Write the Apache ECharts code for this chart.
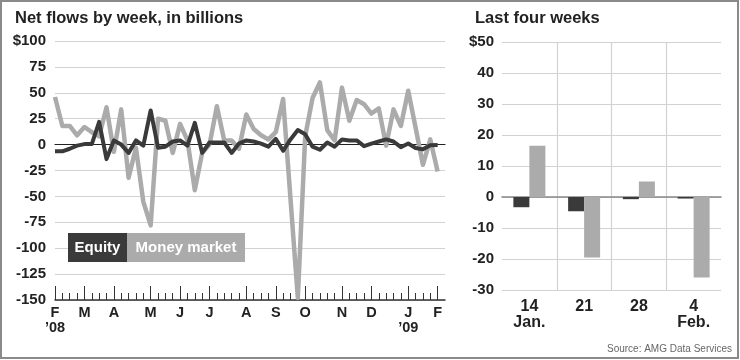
<!DOCTYPE html>
<html><head><meta charset="utf-8">
<script src="https://cdn.jsdelivr.net/npm/echarts@6/dist/echarts.min.js"></script>
<style>html,body{margin:0;padding:0;background:#fff}#c{width:740px;height:360px}</style>
</head><body><div id="c"></div>
<script>
// Weekly categories (Wednesdays), Feb 2008 - Feb 2009
const weeks = [
 '2008-02-06','2008-02-13','2008-02-20','2008-02-27',
 '2008-03-05','2008-03-12','2008-03-19','2008-03-26',
 '2008-04-02','2008-04-09','2008-04-16','2008-04-23','2008-04-30',
 '2008-05-07','2008-05-14','2008-05-21','2008-05-28',
 '2008-06-04','2008-06-11','2008-06-18','2008-06-25',
 '2008-07-02','2008-07-09','2008-07-16','2008-07-23','2008-07-30',
 '2008-08-06','2008-08-13','2008-08-20','2008-08-27',
 '2008-09-03','2008-09-10','2008-09-17','2008-09-24',
 '2008-10-01','2008-10-08','2008-10-15','2008-10-22','2008-10-29',
 '2008-11-05','2008-11-12','2008-11-19','2008-11-26',
 '2008-12-03','2008-12-10','2008-12-17','2008-12-24','2008-12-31',
 '2009-01-07','2009-01-14','2009-01-21','2009-01-28',
 '2009-02-04'
];
const equity = [
 -6.5,-6.5,-4,-1,0.5,0.5,22,-14,4,0,
 -8,4,-1,33,-3,-2,3,4,-1,21,
 -8,2,2,2,-8,1,4,3,1,-2,
 5.5,-6,5,14,10,-2,-5,2,-2,5,
 4,4,-1.5,1,3,5,3,-2.5,1,-3.3,
 -4.6,-0.7,-0.5
];
const moneyMarket = [
 46,18,18,9,17,12,8,36,-7,34,
 -32,-3,-55,-78,25,23,-8,20,4,-44,
 -8,0,37,4,4,-4,29,15,9,5,
 12,44,-52,-148,8,45,60,14,4,55,
 23,43,39,30,35,-1,34,18,52,16.5,
 -19.5,5,-26
];
const monthTicks = ['2008-02-06','2008-03-05','2008-04-02','2008-05-07','2008-06-04','2008-07-02','2008-08-06','2008-09-03','2008-10-01','2008-11-05','2008-12-03','2009-01-07','2009-02-04'];
const monthLabels = ['F\n\u201908','M','A','M','J','J','A','S','O','N','D','J\n\u201909','F'];

const lastWeeks = ['14\nJan.','21','28','4\nFeb.'];
const lastEquity = [-3.3,-4.6,-0.7,-0.5];
const lastMoney = [16.5,-19.5,5,-26];

const DARK = '#3a3a3a', LIGHT = '#ababab', GRID = '#d2d2d2';
const FONT = '"Liberation Sans", Arial, sans-serif';

const axisCats = weeks.concat(['']);
const isMonth = (i) => monthTicks.indexOf(axisCats[i]) >= 0;

const chart = echarts.init(document.getElementById('c'), null, {renderer: 'canvas'});
chart.setOption({
  animation: false,
  backgroundColor: '#fff',
  title: [
    {text: 'Net flows by week, in billions', left: 10, top: 5,
     textStyle: {fontFamily: FONT, fontSize: 16.5, fontWeight: 'bold', color: '#222'}},
    {text: 'Last four weeks', left: 470, top: 5,
     textStyle: {fontFamily: FONT, fontSize: 16.5, fontWeight: 'bold', color: '#222'}}
  ],
  grid: [
    {left: 55, right: 295, top: 41, bottom: 60},
    {left: 502, right: 19, top: 42, bottom: 70}
  ],
  xAxis: [
    {gridIndex: 0, type: 'category', data: axisCats, boundaryGap: false, position: 'bottom',
     axisLine: {show: true, onZero: false, lineStyle: {color: '#333', width: 1.5}},
     axisTick: {show: true, inside: true, length: 14, interval: (i) => isMonth(i), lineStyle: {color: '#333', width: 1}},
     axisLabel: {interval: (i) => isMonth(i), formatter: (v) => { const k = monthTicks.indexOf(v); return k >= 0 ? monthLabels[k] : ''; },
       color: '#222', fontFamily: FONT, fontWeight: 'bold', fontSize: 14.5, lineHeight: 15, margin: 5},
     splitLine: {show: false}},
    {gridIndex: 0, type: 'category', data: axisCats, boundaryGap: false, position: 'bottom',
     axisLine: {show: false, onZero: false},
     axisTick: {show: true, inside: true, length: 7, interval: (i) => i < weeks.length, lineStyle: {color: '#333', width: 1}},
     axisLabel: {show: false}, splitLine: {show: false}},
    {gridIndex: 0, type: 'category', data: axisCats, boundaryGap: false, position: 'bottom',
     axisLine: {show: true, onZero: true, lineStyle: {color: '#222', width: 1.2}},
     axisTick: {show: false}, axisLabel: {show: false}, splitLine: {show: false}},
    {gridIndex: 1, type: 'category', data: lastWeeks, boundaryGap: true, position: 'bottom',
     axisLine: {show: false, onZero: false}, axisTick: {show: false},
     axisLabel: {interval: 0, color: '#222', fontFamily: FONT, fontWeight: 'bold', fontSize: 16, lineHeight: 16, margin: 9},
     splitLine: {show: true, interval: 0, showMinLine: false, showMaxLine: false, lineStyle: {color: GRID, width: 1.2}}},
    {gridIndex: 1, type: 'category', data: lastWeeks, boundaryGap: true, position: 'bottom',
     axisLine: {show: true, onZero: true, lineStyle: {color: '#888', width: 1.5}},
     axisTick: {show: false}, axisLabel: {show: false}, splitLine: {show: false}}
  ],
  yAxis: [
    {gridIndex: 0, type: 'value', min: -150, max: 100, interval: 25,
     axisLine: {show: false}, axisTick: {show: false},
     axisLabel: {formatter: (v) => v === 100 ? '$100' : String(v), color: '#222', fontFamily: FONT, fontWeight: 'bold', fontSize: 15, margin: 9},
     splitLine: {show: true, lineStyle: {color: GRID, width: 1.2}}},
    {gridIndex: 1, type: 'value', min: -30, max: 50, interval: 10,
     axisLine: {show: false}, axisTick: {show: false},
     axisLabel: {formatter: (v) => v === 50 ? '$50' : String(v), color: '#222', fontFamily: FONT, fontWeight: 'bold', fontSize: 15, margin: 8},
     splitLine: {show: true, lineStyle: {color: GRID, width: 1.2}}}
  ],
  series: [
    {name: 'Money market', type: 'line', xAxisIndex: 0, yAxisIndex: 0, data: moneyMarket,
     symbol: 'none', z: 3, lineStyle: {color: LIGHT, width: 4.5, join: 'round'}},
    {name: 'Equity', type: 'line', xAxisIndex: 0, yAxisIndex: 0, data: equity,
     symbol: 'none', z: 4, lineStyle: {color: DARK, width: 4, join: 'round'}},
    {name: 'Equity', type: 'bar', xAxisIndex: 3, yAxisIndex: 1, data: lastEquity,
     barWidth: 16, barGap: '0%', itemStyle: {color: DARK}},
    {name: 'Money market', type: 'bar', xAxisIndex: 3, yAxisIndex: 1, data: lastMoney,
     barWidth: 16, barGap: '0%', itemStyle: {color: LIGHT}}
  ],
  graphic: [
    {type: 'rect', shape: {x: 1, y: 1, width: 737, height: 357}, style: {fill: 'none', stroke: '#8a8a8a', lineWidth: 2}, z: 100},
    {type: 'rect', shape: {x: 68, y: 233, width: 59, height: 29}, style: {fill: DARK}, z: 50},
    {type: 'rect', shape: {x: 127, y: 233, width: 118, height: 29}, style: {fill: LIGHT}, z: 50},
    {type: 'text', x: 97.5, y: 248, style: {text: 'Equity', fill: '#fff', font: 'bold 15px ' + FONT, textAlign: 'center', textVerticalAlign: 'middle'}, z: 51},
    {type: 'text', x: 186, y: 248, style: {text: 'Money market', fill: '#fff', font: 'bold 15px ' + FONT, textAlign: 'center', textVerticalAlign: 'middle'}, z: 51},
    {type: 'text', x: 732, y: 349, style: {text: 'Source: AMG Data Services', fill: '#666', font: '10px ' + FONT, textAlign: 'right', textVerticalAlign: 'middle'}, z: 51}
  ]
});
</script></body></html>
